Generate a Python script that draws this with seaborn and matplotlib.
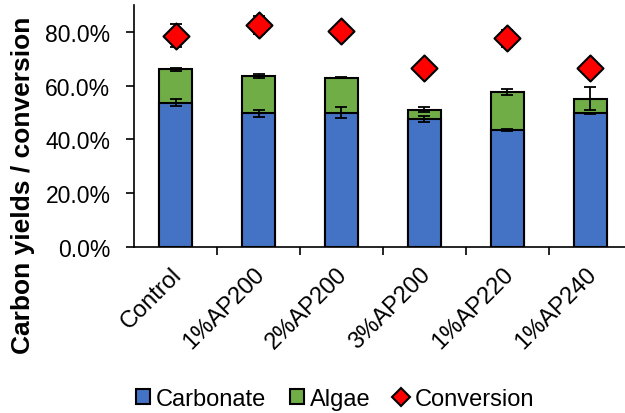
import matplotlib
matplotlib.use("Agg")
import matplotlib.pyplot as plt
from matplotlib.lines import Line2D
from matplotlib.patches import Patch
from matplotlib.ticker import PercentFormatter, FixedLocator
from matplotlib.transforms import ScaledTranslation
import numpy as np
import pandas as pd
import seaborn as sns

# Samples and measured yields (fractions)
samples = ["Control", "1%AP200", "2%AP200", "3%AP200", "1%AP220", "1%AP240"]
carbonate = [0.536, 0.497, 0.499, 0.476, 0.435, 0.497]
algae = [0.125, 0.138, 0.131, 0.034, 0.143, 0.054]
conversion = [0.786, 0.827, 0.802, 0.667, 0.776, 0.666]
carbonate_err = [0.013, 0.013, 0.020, 0.011, 0.004, 0.003]
total_err = [0.005, 0.007, 0.003, 0.009, 0.011, 0.043]
conversion_err = [0.043, 0.033, 0.0, 0.0, 0.032, 0.0]

BLUE = "#4472C4"
GREEN = "#70AD47"
RED = "#FF0000"

sns.set_style("white")
plt.rcParams["font.family"] = ["Liberation Sans", "DejaVu Sans"]
plt.rcParams["text.color"] = "black"
plt.rcParams["axes.labelcolor"] = "black"
plt.rcParams["xtick.color"] = "black"
plt.rcParams["ytick.color"] = "black"

total = [c + a for c, a in zip(carbonate, algae)]
df = pd.DataFrame({"sample": samples, "carbonate": carbonate,
                   "total": total, "conversion": conversion})

fig = plt.figure(figsize=(6.25, 4.14), dpi=100)
ax = fig.add_axes([134 / 625, 166 / 414, 498 / 625, 242 / 414])

# Stacked bars: full height in green, carbonate part in blue on top
sns.barplot(data=df, x="sample", y="total", color=GREEN, width=0.4,
            edgecolor="black", linewidth=1.5, saturation=1, ax=ax)
sns.barplot(data=df, x="sample", y="carbonate", color=BLUE, width=0.4,
            edgecolor="black", linewidth=1.5, saturation=1, ax=ax)

xpos = np.arange(len(samples))
eb_kw = dict(fmt="none", ecolor="black", elinewidth=1.3, capsize=4.3,
             capthick=1.3, zorder=4)
ax.errorbar(xpos, carbonate, yerr=carbonate_err, **eb_kw)
ax.errorbar(xpos, total, yerr=total_err, **eb_kw)
ax.errorbar(xpos, conversion, yerr=conversion_err, **eb_kw)

sns.scatterplot(data=df, x="sample", y="conversion", marker="D", s=175,
                color=RED, edgecolor="black", linewidth=1.5, zorder=5,
                legend=False, ax=ax)

ax.set_xlim(-0.5, len(samples) - 0.5)
ax.set_ylim(0, 0.9)
ax.set_yticks([0, 0.2, 0.4, 0.6, 0.8])
ax.yaxis.set_major_formatter(PercentFormatter(1.0, decimals=1))

# Category labels at centres, tick marks between categories
ax.set_xticks(xpos)
ax.set_xticklabels(samples, rotation=45, ha="right", rotation_mode="anchor")
ax.tick_params(axis="x", length=0, labelsize=17, pad=10)
shift = ScaledTranslation(-5 / 100, -2 / 100, fig.dpi_scale_trans)
for lbl in ax.get_xticklabels():
    lbl.set_transform(lbl.get_transform() + shift)
ax.xaxis.set_minor_locator(FixedLocator(np.arange(0.5, len(samples) + 0.5, 1)))
ax.tick_params(axis="x", which="minor", length=6, width=1.2, direction="out",
               bottom=True)
ax.tick_params(axis="y", length=6, width=1.2, direction="out", left=True,
               labelsize=16.5, pad=11)

ax.set_xlabel("")
ax.set_ylabel("Carbon yields / conversion", fontsize=19, fontweight="bold")
ax.yaxis.set_label_coords(-0.199, 0.26)

for side in ["top", "right"]:
    ax.spines[side].set_visible(False)
for side in ["left", "bottom"]:
    ax.spines[side].set_color("black")
    ax.spines[side].set_linewidth(1.2)

handles = [
    Patch(facecolor=BLUE, edgecolor="black", linewidth=1.5, label="Carbonate"),
    Patch(facecolor=GREEN, edgecolor="black", linewidth=1.5, label="Algae"),
    Line2D([], [], marker="D", linestyle="none", markersize=9,
           markerfacecolor=RED, markeredgecolor="black", markeredgewidth=1.5,
           label="Conversion"),
]
fig.legend(handles=handles, loc="center", bbox_to_anchor=(0.536, 0.034),
           ncol=3, frameon=False, fontsize=17, handlelength=0.6,
           handleheight=0.6, handletextpad=0.25, columnspacing=1.0)

fig.savefig("out.png", dpi=100)
